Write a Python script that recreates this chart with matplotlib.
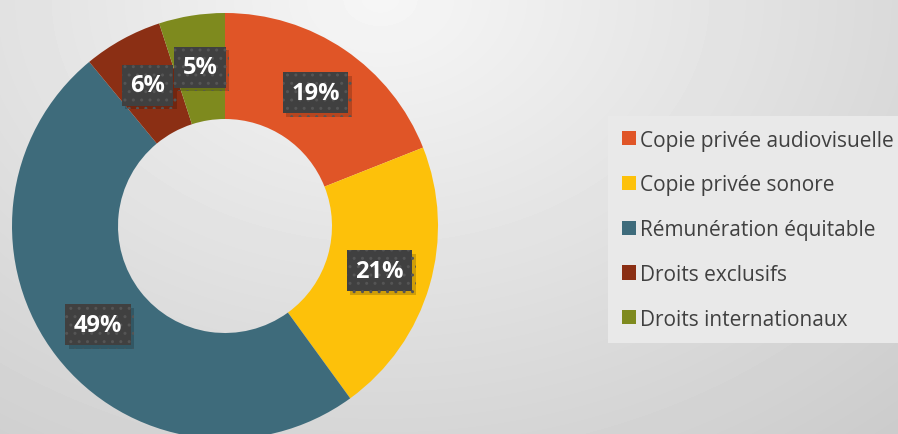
import numpy as np
import matplotlib
matplotlib.use("Agg")
from matplotlib import pyplot as plt
from matplotlib import patheffects as pe

# Data
categories = [
    "Copie privée audiovisuelle",
    "Copie privée sonore",
    "Rémunération équitable",
    "Droits exclusifs",
    "Droits internationaux",
]
shares = [19, 21, 49, 6, 5]
colors = ["#E05527", "#FDC10A", "#3E6B7B", "#8B2F14", "#7E8A1E"]

W, H = 898, 435
fig = plt.figure(figsize=(W / 100, H / 100), dpi=100)
ax = fig.add_axes([0, 0, 1, 1])

# Soft grey background gradient
yy, xx = np.mgrid[0:H, 0:W]
dist = np.sqrt(((xx - 380) / 700.0) ** 2 + ((yy - H) / 520.0) ** 2)
bg = 0.965 - 0.15 * np.clip(dist, 0, 1.2)
ax.imshow(bg, cmap="gray", vmin=0, vmax=1, extent=[0, W, 0, H],
          origin="lower", aspect="auto", zorder=0)

cx, cy, R = 225, 208, 213
wedges, _ = ax.pie(
    shares,
    colors=colors,
    startangle=90,
    counterclock=False,
    radius=R,
    center=(cx, cy),
    wedgeprops=dict(width=106, linewidth=0),
    frame=True,
)
ax.set_xlim(0, W)
ax.set_ylim(0, H)
ax.set_aspect("auto")
ax.axis("off")

# Percentage labels in dark boxes
start = 90.0
total = float(sum(shares))
for v in shares:
    mid = np.deg2rad(start - v / total * 360 / 2)
    start -= v / total * 360
    x = cx + 0.755 * R * np.cos(mid)
    y = cy + 0.755 * R * np.sin(mid)
    t = ax.text(
        x, y, f"{v}%",
        ha="center", va="center",
        color="white", fontsize=17, fontweight="bold",
        family=["Open Sans", "DejaVu Sans"],
        zorder=5,
        bbox=dict(boxstyle="square,pad=0.36", facecolor="#404040",
                  edgecolor="#555555", linewidth=0, hatch=".."),
    )
    t.get_bbox_patch().set_path_effects(
        [pe.SimplePatchShadow(offset=(2.5, -2.5), shadow_rgbFace="black", alpha=0.18),
         pe.Normal()]
    )

leg = ax.legend(
    wedges, categories,
    loc="upper left",
    bbox_to_anchor=(608 / W, 1 - 117 / H),
    frameon=True,
    fancybox=False,
    facecolor="#E9E9E9",
    edgecolor="none",
    framealpha=1,
    handlelength=0.68,
    handleheight=0.68,
    handletextpad=0.2,
    labelspacing=1.14,
    borderpad=0.65,
    borderaxespad=0,
    prop={"family": ["Open Sans", "DejaVu Sans"], "size": 15},
)
for txt in leg.get_texts():
    txt.set_color("#404040")

fig.savefig("out.png", dpi=100)
